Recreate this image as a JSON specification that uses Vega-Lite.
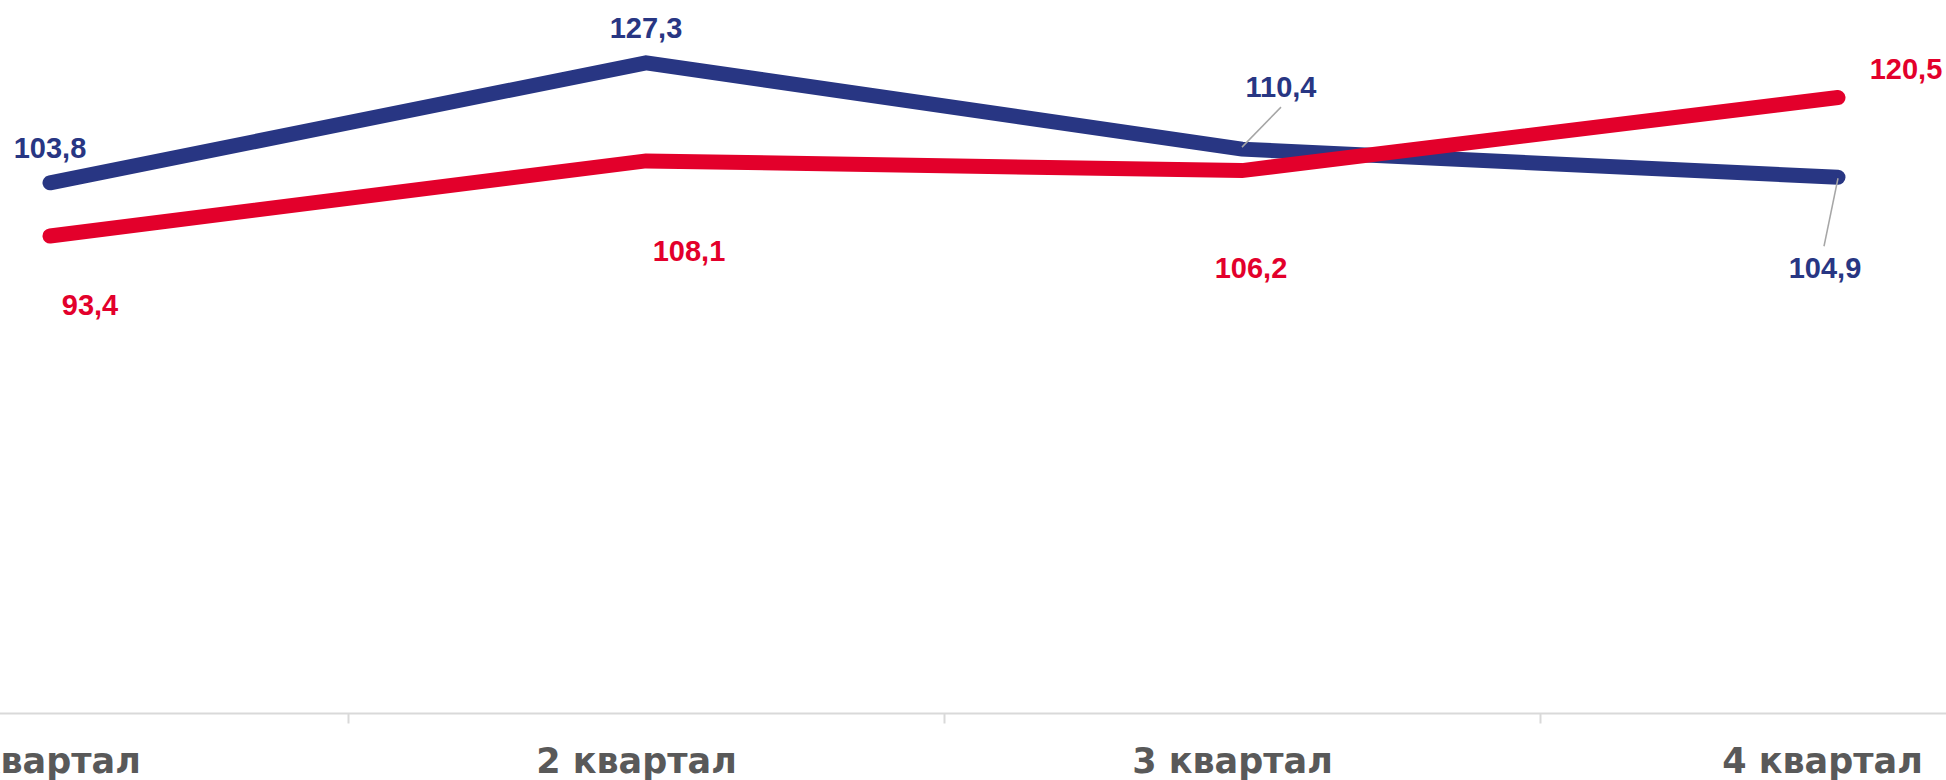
{
  "$schema": "https://vega.github.io/schema/vega-lite/v6.json",
  "width": 1946,
  "height": 713,
  "autosize": "none",
  "padding": {"left": 0, "top": 0, "right": 0, "bottom": 67},
  "background": "white",
  "config": {
    "view": {"stroke": null},
    "font": "Liberation Sans",
    "locale": {"number": {"decimal": ",", "thousands": "\u00a0", "grouping": [3], "currency": ["", " ₽"]}}
  },
  "data": {
    "values": [
      {"q": "1 квартал", "series": "Ряд 1", "value": 103.8},
      {"q": "2 квартал", "series": "Ряд 1", "value": 127.3},
      {"q": "3 квартал", "series": "Ряд 1", "value": 110.4},
      {"q": "4 квартал", "series": "Ряд 1", "value": 104.9},
      {"q": "1 квартал", "series": "Ряд 2", "value": 93.4},
      {"q": "2 квартал", "series": "Ряд 2", "value": 108.1},
      {"q": "3 квартал", "series": "Ряд 2", "value": 106.2},
      {"q": "4 квартал", "series": "Ряд 2", "value": 120.5}
    ]
  },
  "encoding": {
    "x": {
      "field": "q",
      "type": "nominal",
      "sort": null,
      "scale": {"type": "band", "range": [-248, 2136], "paddingInner": 0, "paddingOuter": 0},
      "axis": {
        "title": null,
        "grid": false,
        "domainColor": "#D9D9D9",
        "domainWidth": 2,
        "tickColor": "#D9D9D9",
        "tickWidth": 2,
        "tickSize": 10,
        "tickBand": "extent",
        "labelFont": "DejaVu Sans",
        "labelFontWeight": "bold",
        "labelFontSize": 35,
        "labelColor": "#595959",
        "labelBaseline": "alphabetic",
        "labelPadding": 49,
        "labelLimit": 0,
        "labelOffset": {"condition": {"test": "datum.value === '4 квартал'", "value": -16}, "value": -10},
        "labelAngle": 0,
        "labelOverlap": false,
        "labelBound": false,
        "labelFlush": false
      }
    },
    "y": {
      "field": "value",
      "type": "quantitative",
      "scale": {"domain": [0, 139.6], "nice": false, "zero": true},
      "axis": null
    }
  },
  "layer": [
    {
      "transform": [{"filter": "datum.series === 'Ряд 1'"}],
      "mark": {"type": "line", "color": "#283683", "strokeWidth": 15, "strokeCap": "round", "strokeJoin": "miter"}
    },
    {
      "transform": [{"filter": "datum.series === 'Ряд 2'"}],
      "mark": {"type": "line", "color": "#E3002B", "strokeWidth": 15, "strokeCap": "round", "strokeJoin": "miter"}
    },
    {
      "transform": [{"filter": "datum.series === 'Ряд 1' && datum.q === '3 квартал'"}],
      "mark": {"type": "rule", "color": "#A6A6A6", "strokeWidth": 1.5, "yOffset": -2, "x2Offset": 39, "y2Offset": -42},
      "encoding": {"x2": {"field": "q"}, "y2": {"field": "value"}}
    },
    {
      "transform": [{"filter": "datum.series === 'Ряд 1' && datum.q === '4 квартал'"}],
      "mark": {"type": "rule", "color": "#A6A6A6", "strokeWidth": 1.5, "yOffset": 1, "x2Offset": -14, "y2Offset": 69},
      "encoding": {"x2": {"field": "q"}, "y2": {"field": "value"}}
    },
    {
      "transform": [{"filter": "datum.series === 'Ряд 1' && (datum.q === '1 квартал' || datum.q === '2 квартал')"}],
      "mark": {"type": "text", "fontWeight": "bold", "fontSize": 29, "baseline": "alphabetic", "align": "center", "color": "#283683", "dy": -25},
      "encoding": {"text": {"field": "value", "type": "quantitative", "format": ".1f"}}
    },
    {
      "transform": [{"filter": "datum.series === 'Ряд 1' && datum.q === '3 квартал'"}],
      "mark": {"type": "text", "fontWeight": "bold", "fontSize": 29, "baseline": "alphabetic", "align": "center", "color": "#283683", "dx": 39, "dy": -52},
      "encoding": {"text": {"field": "value", "type": "quantitative", "format": ".1f"}}
    },
    {
      "transform": [{"filter": "datum.series === 'Ряд 1' && datum.q === '4 квартал'"}],
      "mark": {"type": "text", "fontWeight": "bold", "fontSize": 29, "baseline": "alphabetic", "align": "center", "color": "#283683", "dx": -13, "dy": 101},
      "encoding": {"text": {"field": "value", "type": "quantitative", "format": ".1f"}}
    },
    {
      "transform": [{"filter": "datum.series === 'Ряд 2' && datum.q === '1 квартал'"}],
      "mark": {"type": "text", "fontWeight": "bold", "fontSize": 29, "baseline": "alphabetic", "align": "center", "color": "#E3002B", "dx": 40, "dy": 79},
      "encoding": {"text": {"field": "value", "type": "quantitative", "format": ".1f"}}
    },
    {
      "transform": [{"filter": "datum.series === 'Ряд 2' && datum.q === '2 квартал'"}],
      "mark": {"type": "text", "fontWeight": "bold", "fontSize": 29, "baseline": "alphabetic", "align": "center", "color": "#E3002B", "dx": 43, "dy": 100},
      "encoding": {"text": {"field": "value", "type": "quantitative", "format": ".1f"}}
    },
    {
      "transform": [{"filter": "datum.series === 'Ряд 2' && datum.q === '3 квартал'"}],
      "mark": {"type": "text", "fontWeight": "bold", "fontSize": 29, "baseline": "alphabetic", "align": "center", "color": "#E3002B", "dx": 9, "dy": 107},
      "encoding": {"text": {"field": "value", "type": "quantitative", "format": ".1f"}}
    },
    {
      "transform": [{"filter": "datum.series === 'Ряд 2' && datum.q === '4 квартал'"}],
      "mark": {"type": "text", "fontWeight": "bold", "fontSize": 29, "baseline": "alphabetic", "align": "center", "color": "#E3002B", "dx": 68, "dy": -19},
      "encoding": {"text": {"field": "value", "type": "quantitative", "format": ".1f"}}
    }
  ]
}
